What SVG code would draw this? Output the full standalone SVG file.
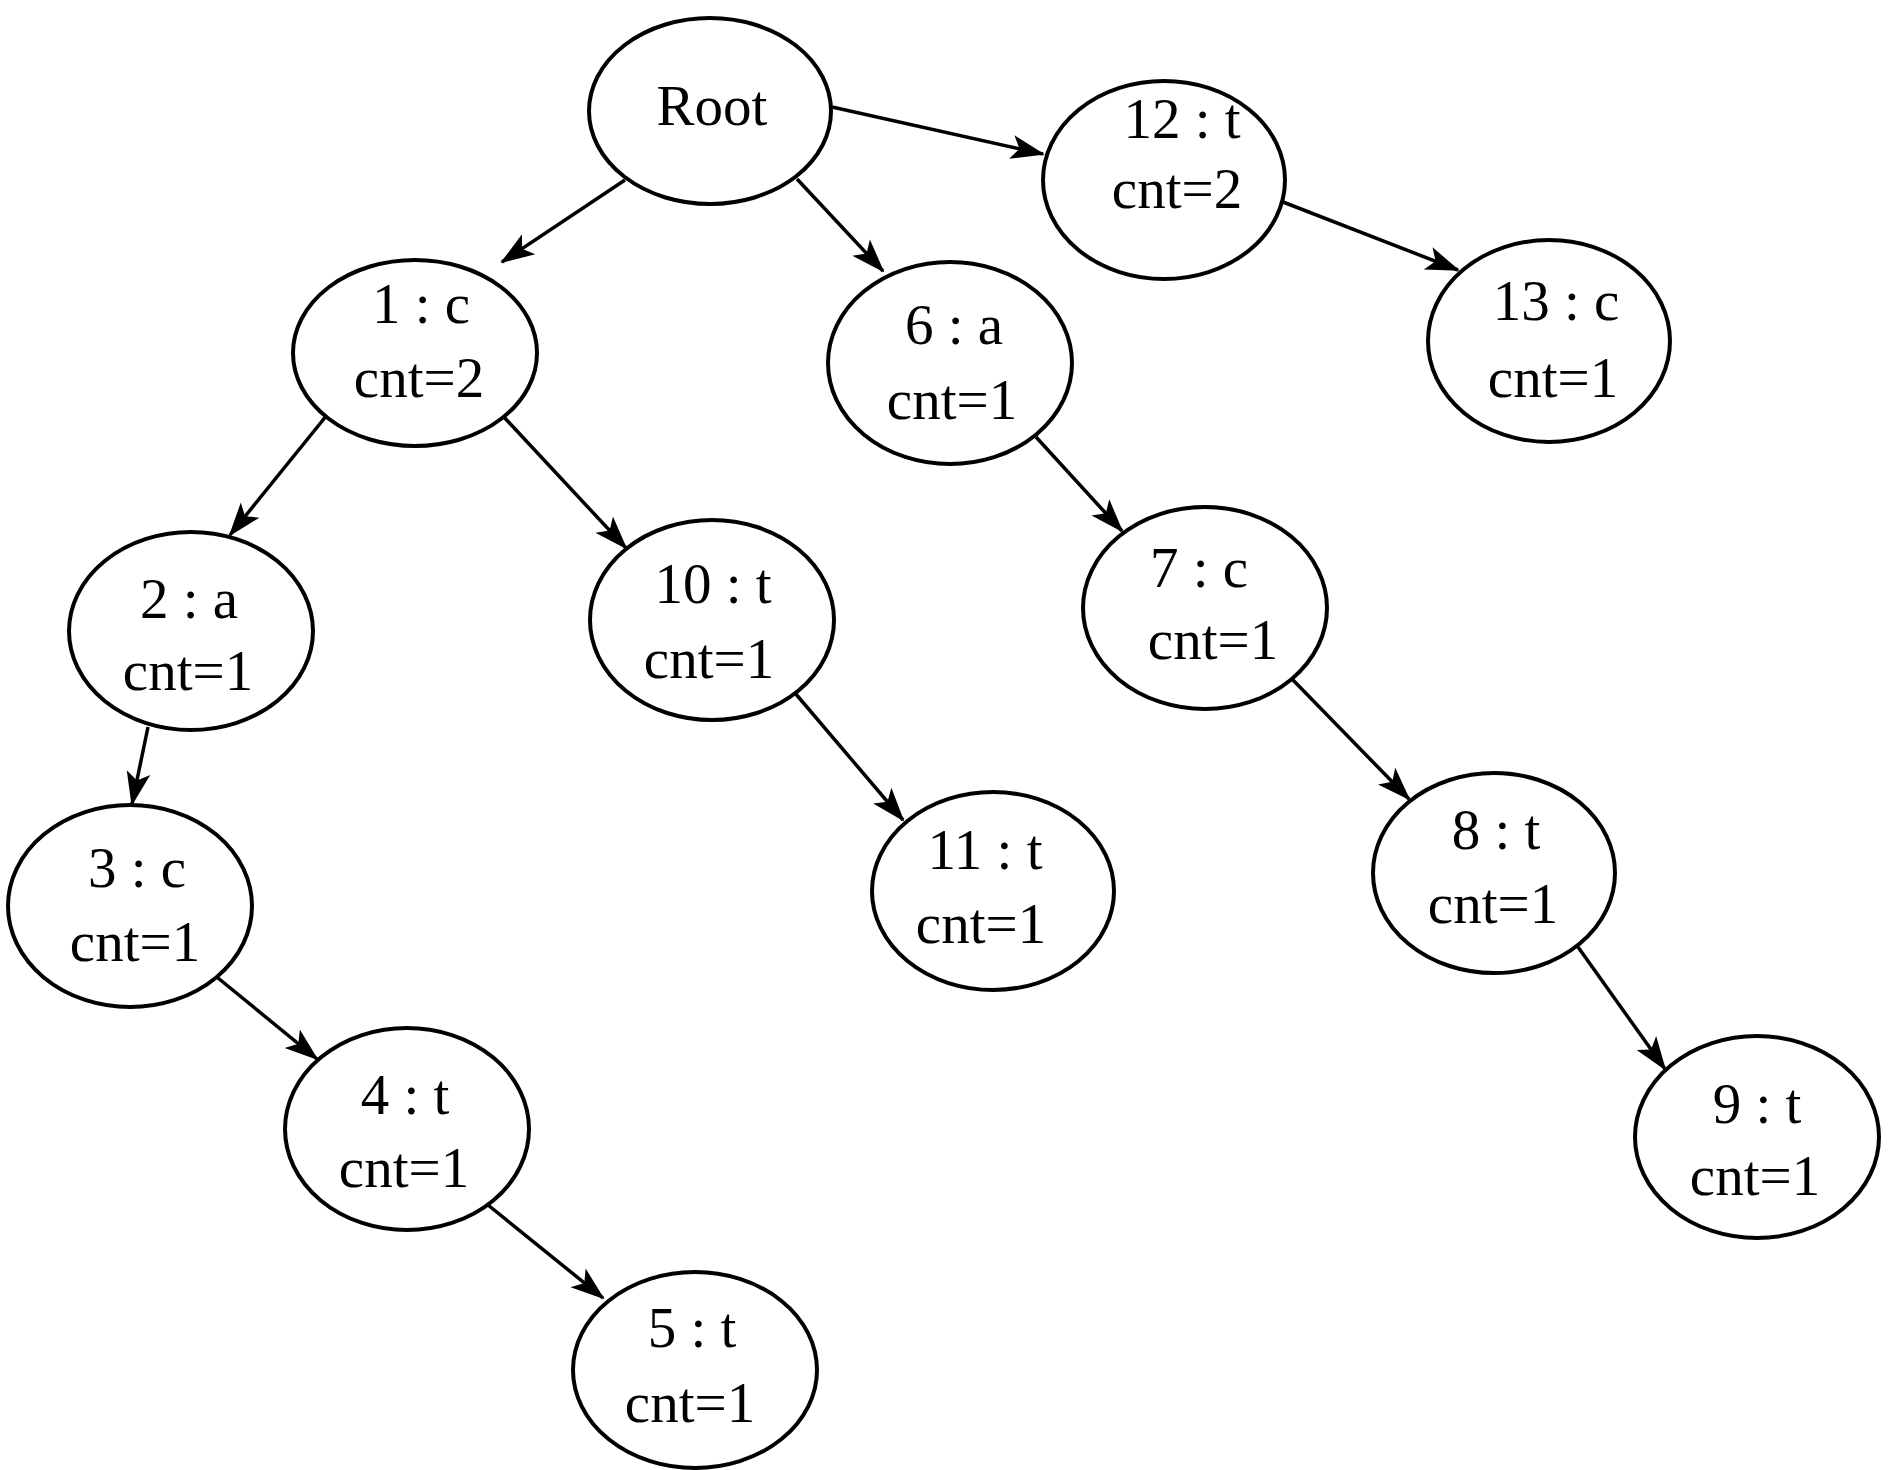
<svg xmlns="http://www.w3.org/2000/svg" width="1890" height="1470" viewBox="0 0 1890 1470">
<style>
.n ellipse{fill:#fff;stroke:#000;stroke-width:4}
.n text{font-family:"Liberation Serif","Times New Roman",serif;font-size:57px;fill:#000;text-anchor:middle}
.e line{stroke:#000;stroke-width:3.5;marker-end:url(#ah)}
</style>
<defs>
<marker id="ah" viewBox="-36 -14 38 28" refX="0" refY="0" markerWidth="38" markerHeight="28" markerUnits="userSpaceOnUse" orient="auto">
<path d="M2,0 L-32,-12 L-24,0 L-32,12 Z" fill="#000"/>
</marker>
</defs>
<rect width="1890" height="1470" fill="#fff"/>
<g id="connectors" class="e">
<line x1="625" y1="180" x2="502" y2="262"/>
<line x1="797" y1="179" x2="883" y2="271"/>
<line x1="832" y1="107" x2="1043" y2="154"/>
<line x1="1283" y1="202" x2="1458" y2="270"/>
<line x1="327" y1="415" x2="230" y2="535"/>
<line x1="502" y1="415" x2="626" y2="548"/>
<line x1="148" y1="727" x2="132" y2="804"/>
<line x1="218" y1="978" x2="317" y2="1059"/>
<line x1="488" y1="1205" x2="603" y2="1298"/>
<line x1="795" y1="693" x2="903" y2="820"/>
<line x1="1036" y1="437" x2="1122" y2="531"/>
<line x1="1292" y1="679" x2="1409" y2="799"/>
<line x1="1578" y1="947" x2="1665" y2="1069"/>
</g>
<g id="root" class="n"><ellipse cx="710" cy="111" rx="121" ry="93"/><text x="712" y="125">Root</text></g>
<g id="n1" class="n"><ellipse cx="415" cy="353" rx="122" ry="93"/><text x="421" y="323">1 : c</text><text x="419" y="397">cnt=2</text></g>
<g id="n2" class="n"><ellipse cx="191" cy="631" rx="122" ry="99"/><text x="189" y="618">2 : a</text><text x="188" y="690">cnt=1</text></g>
<g id="n3" class="n"><ellipse cx="130" cy="906" rx="122" ry="101"/><text x="137" y="887">3 : c</text><text x="135" y="961">cnt=1</text></g>
<g id="n4" class="n"><ellipse cx="407" cy="1129" rx="122" ry="101"/><text x="405" y="1114">4 : t</text><text x="404" y="1187">cnt=1</text></g>
<g id="n5" class="n"><ellipse cx="695" cy="1370" rx="122" ry="98"/><text x="692" y="1347">5 : t</text><text x="690" y="1422">cnt=1</text></g>
<g id="n6" class="n"><ellipse cx="950" cy="363" rx="122" ry="101"/><text x="954" y="344">6 : a</text><text x="952" y="419">cnt=1</text></g>
<g id="n7" class="n"><ellipse cx="1205" cy="608" rx="122" ry="101"/><text x="1199" y="587">7 : c</text><text x="1213" y="659">cnt=1</text></g>
<g id="n8" class="n"><ellipse cx="1494" cy="873" rx="121" ry="100"/><text x="1496" y="849">8 : t</text><text x="1493" y="923">cnt=1</text></g>
<g id="n9" class="n"><ellipse cx="1757" cy="1137" rx="122" ry="101"/><text x="1757" y="1123">9 : t</text><text x="1755" y="1195">cnt=1</text></g>
<g id="n10" class="n"><ellipse cx="712" cy="620" rx="122" ry="100"/><text x="713" y="603">10 : t</text><text x="709" y="678">cnt=1</text></g>
<g id="n11" class="n"><ellipse cx="993" cy="891" rx="121" ry="99"/><text x="985" y="869">11 : t</text><text x="981" y="943">cnt=1</text></g>
<g id="n12" class="n"><ellipse cx="1164" cy="180" rx="121" ry="99"/><text x="1182" y="138">12 : t</text><text x="1177" y="208">cnt=2</text></g>
<g id="n13" class="n"><ellipse cx="1549" cy="341" rx="121" ry="101"/><text x="1556" y="320">13 : c</text><text x="1553" y="397">cnt=1</text></g>
</svg>
